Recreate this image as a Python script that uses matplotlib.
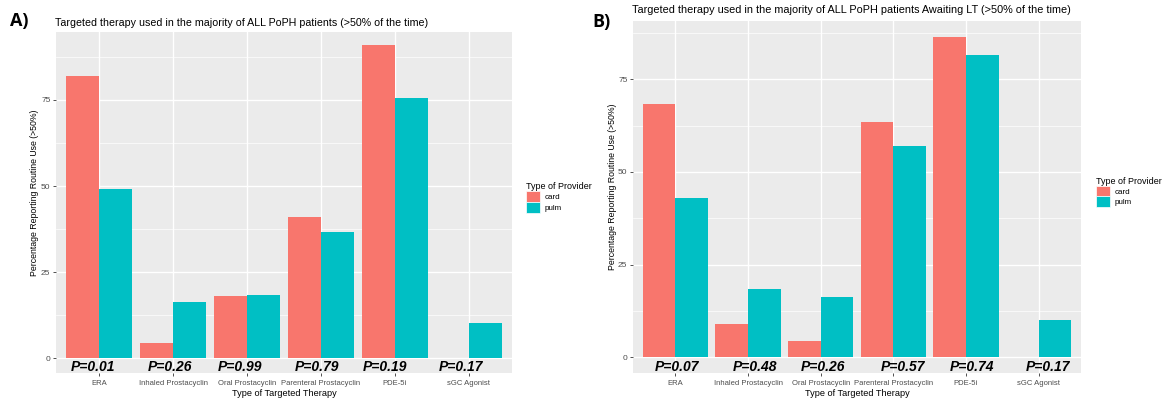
import matplotlib
matplotlib.use("Agg")
import matplotlib.pyplot as plt
from matplotlib.patches import Patch
import numpy as np

W, H = 1173, 403

categories = ["ERA", "Inhaled Prostacyclin", "Oral Prostacyclin",
              "Parenteral Prostacyclin", "PDE-5i", "sGC Agonist"]
providers = ["card", "pulm"]

# Panel A: all PoPH patients
a_card = [81.8, 4.5, 18.2, 40.9, 90.9, 0.0]
a_pulm = [49.0, 16.3, 18.4, 36.7, 75.5, 10.2]
a_pvals = ["P=0.01", "P=0.26", "P=0.99", "P=0.79", "P=0.19", "P=0.17"]

# Panel B: PoPH patients awaiting LT
b_card = [68.2, 9.1, 4.5, 63.6, 86.4, 0.0]
b_pulm = [42.9, 18.4, 16.3, 57.1, 81.6, 10.2]
b_pvals = ["P=0.07", "P=0.48", "P=0.26", "P=0.57", "P=0.74", "P=0.17"]

title_a = "Targeted therapy used in the majority of ALL PoPH patients (>50% of the time)"
title_b = "Targeted therapy used in the majority of ALL PoPH patients Awaiting LT (>50% of the time)"
ylabel = "Percentage Reporting Routine Use (>50%)"
xlabel = "Type of Targeted Therapy"
legend_title = "Type of Provider"
yticks = [0, 25, 50, 75]

COL_CARD = "#F8766D"
COL_PULM = "#00BFC4"
PANEL_BG = "#EBEBEB"
TXT = "#4D4D4D"

plt.rcParams["font.family"] = ["Liberation Sans", "DejaVu Sans"]

fig = plt.figure(figsize=(W / 100, H / 100), dpi=100)


def fx(x):
    return x / W


def fy(y):
    return 1 - y / H


def panel(left, right, top, bottom, ylim, card, pulm, pvals, poffs, title, title_y, title_fs,
          lab, lab_x, lab_y, leg_x, leg_y, ylab_x):
    ax = fig.add_axes([fx(left), fy(bottom), fx(right - left), (bottom - top) / H])
    ax.set_facecolor(PANEL_BG)
    x = np.arange(1, len(categories) + 1)
    w = 0.45
    ax.bar(x - w / 2, card, width=w, color=COL_CARD, zorder=3, linewidth=0)
    ax.bar(x + w / 2, pulm, width=w, color=COL_PULM, zorder=3, linewidth=0)
    ax.set_xlim(0.415, 6.585)
    ax.set_ylim(*ylim)
    ax.set_yticks(yticks)
    ax.set_yticks([12.5, 37.5, 62.5, 87.5], minor=True)
    ax.set_xticks(x)
    ax.set_xticklabels(categories)
    ax.grid(True, which="major", color="white", linewidth=1.0, zorder=1)
    ax.grid(True, which="minor", axis="y", color="white", linewidth=0.5, zorder=1)
    ax.set_axisbelow(True)
    for s in ax.spines.values():
        s.set_visible(False)
    ax.tick_params(axis="both", which="major", length=2.5, width=0.6, color="#333333",
                   labelsize=5.5, labelcolor=TXT, pad=1.5)
    ax.tick_params(axis="y", labelsize=6.0)
    ax.tick_params(axis="x", pad=2.0)
    ax.tick_params(which="minor", length=0)
    for i, p in enumerate(pvals):
        ax.text(x[i] + poffs[i], -2.65, p, ha="center", va="center",
                fontsize=10.0, fontweight="bold", style="italic",
                family=["Liberation Sans Narrow", "Liberation Sans"], color="black", zorder=5)
    fig.text(fx(left - 1), fy(title_y), title, ha="left", va="center", fontsize=title_fs,
             color="black")
    fig.text(fx(lab_x), fy(lab_y), lab, ha="left", va="center", fontsize=13,
             fontweight="bold", family=["Open Sans", "DejaVu Sans"])
    fig.text(fx((left + right) / 2), fy(393), xlabel, ha="center", va="center",
             fontsize=6.6, color="black")
    fig.text(fx(ylab_x), fy((top + bottom) / 2 - 10), ylabel, ha="center", va="center",
             rotation=90, fontsize=6.3, color="black")
    handles = [Patch(facecolor=COL_CARD, edgecolor="white", linewidth=0.5, label=providers[0]),
               Patch(facecolor=COL_PULM, edgecolor="white", linewidth=0.5, label=providers[1])]
    fig.legend(handles=handles, title=legend_title, loc="upper left",
               bbox_to_anchor=(fx(leg_x), fy(leg_y)), frameon=False,
               fontsize=5.8, title_fontsize=6.5, handlelength=1.7, handleheight=1.7,
               labelspacing=0.0, handletextpad=0.6, borderpad=0.0, borderaxespad=0.0,
               alignment="left")
    return ax


panel(56, 512, 32, 373.3, (-4.36, 94.7), a_card, a_pulm, a_pvals,
      [-0.085, -0.04, -0.1, -0.05, -0.13, -0.11], title_a, 22.7, 7.7,
      "A)", 10, 21.3, 526, 182, 35.0)
panel(633, 1081, 20.7, 373.3, (-4.3, 90.8), b_card, b_pulm, b_pvals,
      [0.02, 0.09, 0.03, 0.13, 0.09, 0.13], title_b, 10, 7.8,
      "B)", 592, 22, 1096, 176.5, 612.5)

fig.savefig("out.png", dpi=100)
